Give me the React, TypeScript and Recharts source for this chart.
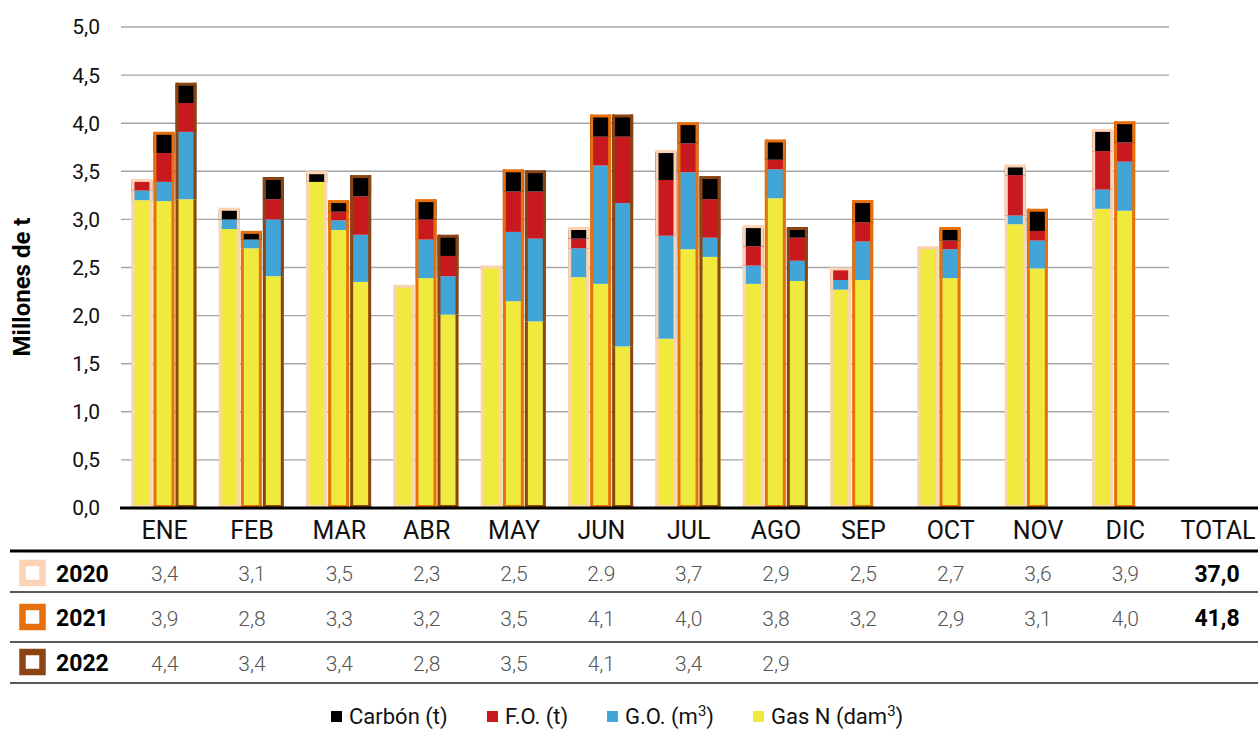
import React from 'react';
import { BarChart, Bar, XAxis, YAxis, CartesianGrid } from 'recharts';

const MONTHS = ['ENE', 'FEB', 'MAR', 'ABR', 'MAY', 'JUN', 'JUL', 'AGO', 'SEP', 'OCT', 'NOV', 'DIC'];
const YEARS = ['2020', '2021', '2022'];

// Gas N (dam3)
const GAS_2020 = [3.2, 2.9, 3.39, 2.3, 2.5, 2.4, 1.76, 2.33, 2.27, 2.7, 2.95, 3.11];
const GAS_2021 = [3.19, 2.7, 2.89, 2.39, 2.15, 2.33, 2.69, 3.22, 2.37, 2.39, 2.49, 3.09];
const GAS_2022 = [3.21, 2.41, 2.35, 2.01, 1.94, 1.68, 2.61, 2.36, null, null, null, null];
// G.O. (m3)
const GO_2020 = [0.1, 0.1, 0, 0, 0, 0.3, 1.07, 0.19, 0.1, 0, 0.09, 0.2];
const GO_2021 = [0.2, 0.09, 0.1, 0.4, 0.72, 1.23, 0.8, 0.3, 0.4, 0.3, 0.29, 0.51];
const GO_2022 = [0.7, 0.59, 0.49, 0.4, 0.86, 1.49, 0.2, 0.21, null, null, null, null];
// F.O. (t)
const FO_2020 = [0.1, 0, 0, 0, 0, 0.1, 0.58, 0.2, 0.11, 0, 0.42, 0.4];
const FO_2021 = [0.3, 0, 0.09, 0.21, 0.42, 0.3, 0.3, 0.1, 0.2, 0.09, 0.1, 0.2];
const FO_2022 = [0.3, 0.21, 0.4, 0.21, 0.49, 0.69, 0.4, 0.24, null, null, null, null];
// Carbón (t)
const CARBON_2020 = [0, 0.1, 0.09, 0, 0, 0.1, 0.29, 0.2, 0, 0, 0.09, 0.21];
const CARBON_2021 = [0.2, 0.07, 0.1, 0.19, 0.21, 0.21, 0.2, 0.19, 0.21, 0.12, 0.21, 0.2];
const CARBON_2022 = [0.19, 0.21, 0.2, 0.2, 0.2, 0.21, 0.22, 0.09, null, null, null, null];

// Table labels
const TABLE_2020 = ['3,4', '3,1', '3,5', '2,3', '2,5', '2.9', '3,7', '2,9', '2,5', '2,7', '3,6', '3,9'];
const TABLE_2021 = ['3,9', '2,8', '3,3', '3,2', '3,5', '4,1', '4,0', '3,8', '3,2', '2,9', '3,1', '4,0'];
const TABLE_2022 = ['4,4', '3,4', '3,4', '2,8', '3,5', '4,1', '3,4', '2,9', '', '', '', ''];
const TOTALS = ['37,0', '41,8', ''];
const TABLE_ROWS = [TABLE_2020, TABLE_2021, TABLE_2022];

const Y_TICKS = [0, 0.5, 1, 1.5, 2, 2.5, 3, 3.5, 4, 4.5, 5];

const SERIES = [
  { key: 'gas', name: 'Gas N (dam', sup: '3', color: '#F0E93E' },
  { key: 'go', name: 'G.O. (m', sup: '3', color: '#42A5D7' },
  { key: 'fo', name: 'F.O. (t)', sup: '', color: '#C8191E' },
  { key: 'c', name: 'Carbón (t)', sup: '', color: '#000000' },
];
const YEAR_COLORS: Record<string, string> = { '2020': '#FCD3B4', '2021': '#E8700C', '2022': '#8B4513' };

const SOURCES: Record<string, (number | null)[]> = {
  gas2020: GAS_2020, gas2021: GAS_2021, gas2022: GAS_2022,
  go2020: GO_2020, go2021: GO_2021, go2022: GO_2022,
  fo2020: FO_2020, fo2021: FO_2021, fo2022: FO_2022,
  c2020: CARBON_2020, c2021: CARBON_2021, c2022: CARBON_2022,
};

const data = MONTHS.map((m, i) => {
  const row: any = { month: m };
  Object.keys(SOURCES).forEach((k) => { row[k] = SOURCES[k][i]; });
  return row;
});

const FONT = "Roboto, 'DejaVu Sans', sans-serif";

function makeShape(seriesKey: string, year: string, color: string) {
  const key = seriesKey + year;
  const oc = YEAR_COLORS[year];
  return (props: any) => {
    const { x, y, width, height, payload } = props;
    if (!payload || payload[key] == null || !height || height <= 0) return <g />;
    let topKey = '';
    SERIES.forEach((s) => { const v = payload[s.key + year]; if (v != null && v > 0) topKey = s.key; });
    const isTop = topKey === seriesKey;
    const isBottom = seriesKey === 'gas';
    const sw = 3;
    return (
      <g>
        <rect x={x} y={y} width={width} height={height} fill={color} />
        <line x1={x + sw / 2} x2={x + sw / 2} y1={y - (isTop ? 2 : 0)} y2={y + height} stroke={oc} strokeWidth={sw} />
        <line x1={x + width - sw / 2} x2={x + width - sw / 2} y1={y - (isTop ? 2 : 0)} y2={y + height} stroke={oc} strokeWidth={sw} />
        {isTop && <line x1={x} x2={x + width} y1={y - 0.5} y2={y - 0.5} stroke={oc} strokeWidth={sw} />}
        {isBottom && <line x1={x} x2={x + width} y1={y + height - sw / 2} y2={y + height - sw / 2} stroke={oc} strokeWidth={sw} />}
      </g>
    );
  };
}

const MonthTick = (props: any) => {
  const { x, y, payload } = props;
  const idx = MONTHS.indexOf(payload.value);
  return (
    <g>
      <text x={x} y={y + 31} textAnchor="middle" fontFamily={FONT} fontSize={25} fill="#111">{payload.value}</text>
      {TABLE_ROWS.map((row, r) => (
        <text key={r} x={x} y={y + 73 + r * 45} textAnchor="middle" fontFamily={FONT} fontSize={21} fontWeight={300} fill="#555">{row[idx]}</text>
      ))}
    </g>
  );
};

export default function App() {
  const rowY = [573, 617, 662];
  return (
    <div style={{ position: 'absolute', left: 0, top: 0, width: 1258, height: 729, background: '#fff' }}>
      <BarChart
        width={1258}
        height={729}
        data={data}
        margin={{ top: 27, right: 89, left: 0, bottom: 0 }}
        barCategoryGap={10.5}
        barGap={1}
      >
        <CartesianGrid horizontal vertical={false} stroke="#a6a6a6" strokeWidth={1.4} />
        <XAxis dataKey="month" height={221} axisLine={false} tickLine={false} tickSize={0} tickMargin={0} interval={0} tick={(p: any) => <MonthTick {...p} />} />
        <YAxis
          width={121}
          domain={[0, 5]}
          ticks={Y_TICKS}
          axisLine={false}
          tickLine={false}
          tickSize={0}
          tickMargin={21}
          tickFormatter={(v: number) => v.toFixed(1).replace('.', ',')}
          tick={{ fontFamily: FONT, fontSize: 21, fill: '#111' }}
        />
        {YEARS.map((yr) =>
          SERIES.map((s) => (
            <Bar
              key={s.key + yr}
              dataKey={s.key + yr}
              stackId={yr}
              fill={s.color}
              isAnimationActive={false}
              shape={makeShape(s.key, yr, s.color)}
            />
          ))
        )}
      </BarChart>
      <svg width={1258} height={729} style={{ position: 'absolute', left: 0, top: 0, pointerEvents: 'none' }}>
        <line x1={120} x2={1258} y1={508} y2={508} stroke="#000" strokeWidth={3} />
        <text x={22} y={287} transform="rotate(-90 22 287)" textAnchor="middle" dominantBaseline="central" fontFamily={FONT} fontWeight={700} fontSize={24} fill="#000">Millones de t</text>
        <text x={1218} y={539} textAnchor="middle" fontFamily={FONT} fontSize={25} fill="#111">TOTAL</text>
        <line x1={10} x2={1258} y1={551} y2={551} stroke="#000" strokeWidth={3} />
        <line x1={10} x2={1258} y1={592} y2={592} stroke="#222" strokeWidth={1.5} />
        <line x1={10} x2={1258} y1={642} y2={642} stroke="#222" strokeWidth={1.5} />
        <line x1={10} x2={1258} y1={683} y2={683} stroke="#222" strokeWidth={1.5} />
        {YEARS.map((yr, i) => (
          <g key={yr}>
            <rect x={22.5} y={rowY[i] - 10} width={20} height={20} fill="#fff" stroke={YEAR_COLORS[yr]} strokeWidth={6.5} />
            <text x={56} y={rowY[i] + 9} fontFamily={FONT} fontWeight={700} fontSize={23} fill="#000">{yr}</text>
            <text x={1217} y={rowY[i] + 9} textAnchor="middle" fontFamily={FONT} fontWeight={700} fontSize={23} fill="#000">{TOTALS[i]}</text>
          </g>
        ))}
        {[
          { s: SERIES[3], x: 331 },
          { s: SERIES[2], x: 487 },
          { s: SERIES[1], x: 607 },
          { s: SERIES[0], x: 753 },
        ].map(({ s, x }) => (
          <g key={s.key}>
            <rect x={x} y={711} width={11} height={11} fill={s.color} />
            <text x={x + 18} y={724} fontFamily={FONT} fontSize={22} fill="#111">
              {s.name}
              {s.sup && <tspan dy={-8} fontSize={15}>{s.sup}</tspan>}
              {s.sup && <tspan dy={8}>)</tspan>}
            </text>
          </g>
        ))}
      </svg>
    </div>
  );
}
